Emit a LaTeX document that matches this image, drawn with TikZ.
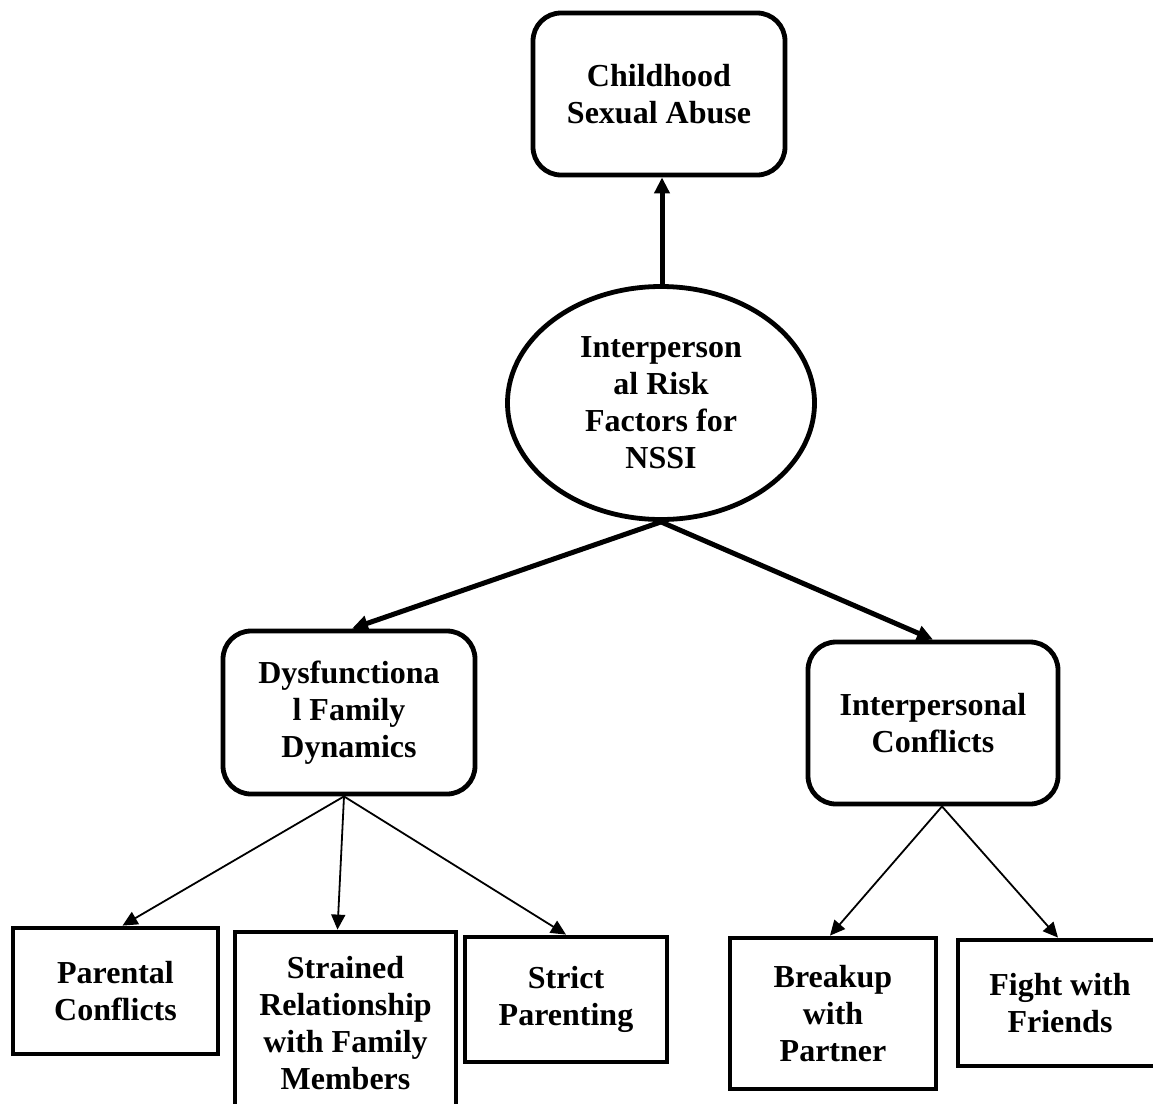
\documentclass[tikz,border=0pt]{standalone}
\usepackage{fontspec}
\setmainfont{Liberation Serif}
\usetikzlibrary{shapes.geometric,arrows.meta}
\begin{document}
\begin{tikzpicture}[x=1pt,y=-1pt,
  every node/.style={font=\fontsize{32}{37}\selectfont\bfseries, align=center, inner sep=0pt},
  rbox/.style={draw, line width=4.8pt, rounded corners=28pt},
  sbox/.style={draw, line width=4.8pt},
  ell/.style={draw, line width=4.8pt, ellipse},
  thickarrow/.style={line width=5pt, -{Triangle[length=16pt,width=15pt]}},
  thinarrow/.style={line width=1.8pt, -{Triangle[length=15pt,width=14pt]}}
]
\useasboundingbox (0,0) rectangle (1153,1103);
\node[rbox, minimum width=252pt, minimum height=162pt] (csa) at (659,94) {Childhood\\Sexual Abuse};
\node[ell, minimum width=307pt, minimum height=233pt] (irf) at (661,403) {Interperson\\al Risk\\Factors for\\NSSI};
\node[rbox, minimum width=252pt, minimum height=163pt] (dfd) at (349,712.5) {Dysfunctiona\\l Family\\Dynamics};
\node[rbox, minimum width=250pt, minimum height=162pt] (ipc) at (933,723) {Interpersonal\\Conflicts};
\node[sbox, minimum width=205pt, minimum height=126pt] (pc) at (115.5,991) {Parental\\Conflicts};
\node[sbox, minimum width=221pt, minimum height=183pt] (sr) at (345.5,1023.5) {Strained\\Relationship\\with Family\\Members};
\node[sbox, minimum width=202pt, minimum height=125pt] (sp) at (566,999.5) {Strict\\Parenting};
\node[sbox, minimum width=206pt, minimum height=151pt] (bp) at (833,1013.5) {Breakup\\with\\Partner};
\node[sbox, minimum width=204pt, minimum height=126pt] (ff) at (1060,1003) {Fight with\\Friends};

\draw[thickarrow] ([xshift=1pt]irf.north) -- ([xshift=3pt]csa.south);
\draw[thickarrow] (irf.south) -- ([xshift=3pt]dfd.north);
\draw[thickarrow] (irf.south) -- (ipc.north);
\draw[thinarrow] ([xshift=-5pt]dfd.south) -- ([xshift=7pt]pc.north);
\draw[thinarrow] ([xshift=-5pt]dfd.south) -- ([xshift=-8pt]sr.north);
\draw[thinarrow] ([xshift=-5pt]dfd.south) -- (sp.north);
\draw[thinarrow] ([xshift=9pt]ipc.south) -- ([xshift=-3pt]bp.north);
\draw[thinarrow] ([xshift=9pt]ipc.south) -- ([xshift=-2pt]ff.north);
\end{tikzpicture}
\end{document}
